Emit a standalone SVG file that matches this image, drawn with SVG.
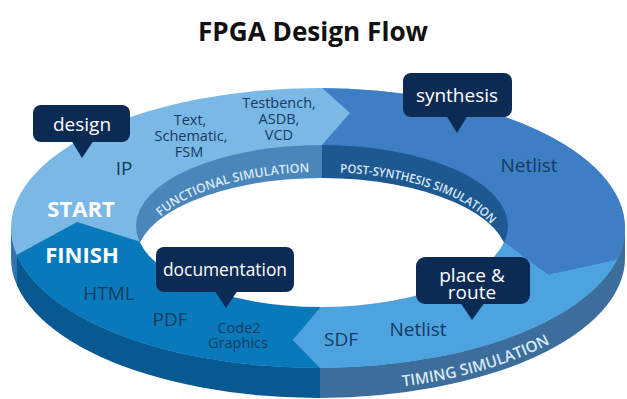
<svg xmlns="http://www.w3.org/2000/svg" width="627" height="399" viewBox="0 0 627 399">
<style>
.title{font-family:"Open Sans","Liberation Sans",sans-serif;font-weight:700;font-size:27px;fill:#111}
.bub{fill:#0b2b54}
.bt{font-family:"Open Sans","Liberation Sans",sans-serif;font-size:19px;fill:#fff;text-anchor:middle}
.lbl{font-family:"Open Sans","Liberation Sans",sans-serif;fill:#163a5f;text-anchor:middle}
.big{font-size:19px}
.sm{font-size:14.5px}
.wt{font-family:"Open Sans","Liberation Sans",sans-serif;font-weight:700;font-size:22px;fill:#fff;text-anchor:middle}
.arc{font-family:"Open Sans","Liberation Sans",sans-serif;font-weight:600;fill:#d8eaf8}
</style>
<defs>
<clipPath id="topFace"><ellipse cx="318" cy="228" rx="307" ry="140"/></clipPath>
<clipPath id="innerTop"><ellipse cx="322" cy="226" rx="186" ry="81"/></clipPath>
<clipPath id="wallL"><rect x="0" y="0" width="17" height="399"/></clipPath>
<clipPath id="wallM"><rect x="17" y="0" width="303" height="399"/></clipPath>
<clipPath id="wallR"><rect x="320" y="0" width="307" height="399"/></clipPath>
<path id="pInner" d="M142,252 A180,80 0 0 1 502,252"/>
<path id="pOuter" d="M318,392 A307,140 0 0 0 625,252"/>
<path id="wallShape" d="M11,228 L11,258 A307,140 0 0 0 625,258 L625,228 Z"/>
</defs>

<text class="title" x="313" y="41" text-anchor="middle" textLength="230" lengthAdjust="spacingAndGlyphs">FPGA Design Flow</text>

<g id="ring">
  <g id="wall">
    <use href="#wallShape" fill="#3373ad" clip-path="url(#wallL)"/>
    <use href="#wallShape" fill="#085891" clip-path="url(#wallM)"/>
    <use href="#wallShape" fill="#3c6d9b" clip-path="url(#wallR)"/>
  </g>
  <g id="top-surface" clip-path="url(#topFace)">
    <rect id="seg-start" x="0" y="60" width="640" height="360" fill="#7ab8e6"/>
    <polygon id="seg-synthesis" points="320,60 645,60 645,254 548,275 505,243 322,243 322,145 350,113 320,86" fill="#3e7ec4"/>
    <polygon id="seg-place-route" points="505,243 548,275 645,254 645,420 320,420 320,368 293,340 320,308 322,243" fill="#4da3e0"/>
    <polygon id="seg-finish" points="0,264 77,222 141,242 320,242 320,308 293,340 320,368 320,420 0,420" fill="#087abc"/>
  </g>
  <g id="inner-wall" clip-path="url(#innerTop)">
    <rect x="130" y="140" width="192" height="200" fill="#4a86b9"/>
    <rect x="322" y="140" width="192" height="200" fill="#1e5891"/>
    <ellipse cx="322" cy="259" rx="186" ry="81" fill="#fff"/>
  </g>
</g>

<g id="band-labels">
  <text class="arc" font-size="12.5"><textPath href="#pInner" startOffset="41" textLength="158" lengthAdjust="spacingAndGlyphs">FUNCTIONAL SIMULATION</textPath></text>
  <text class="arc" font-size="12" fill="#d0e3f3"><textPath href="#pInner" startOffset="230" textLength="163" lengthAdjust="spacingAndGlyphs">POST-SYNTHESIS SIMULATION</textPath></text>
  <text class="arc" font-size="15.5"><textPath href="#pOuter" startOffset="85" textLength="154" lengthAdjust="spacingAndGlyphs">TIMING SIMULATION</textPath></text>
</g>

<g id="labels">
  <text class="wt" x="81" y="217">START</text>
  <text class="wt" x="82" y="263">FINISH</text>
  <text class="lbl big" x="124" y="175">IP</text>
  <text class="lbl sm" x="190" y="125">Text,</text>
  <text class="lbl sm" x="191" y="141">Schematic,</text>
  <text class="lbl sm" x="189" y="157">FSM</text>
  <text class="lbl sm" x="279" y="108">Testbench,</text>
  <text class="lbl sm" x="279" y="124">ASDB,</text>
  <text class="lbl sm" x="279" y="140">VCD</text>
  <text class="lbl big" x="529" y="172">Netlist</text>
  <text class="lbl big" x="109" y="300">HTML</text>
  <text class="lbl big" x="170" y="326">PDF</text>
  <text class="lbl sm" x="239" y="333">Code2</text>
  <text class="lbl sm" x="238" y="348">Graphics</text>
  <text class="lbl big" x="341" y="346">SDF</text>
  <text class="lbl big" x="418" y="336">Netlist</text>
</g>

<g id="connectors"></g>

<g id="node-design">
  <rect class="bub" x="33" y="105" width="97" height="37" rx="8"/>
  <polygon class="bub" points="71,140 94,140 82,158"/>
  <text class="bt" x="82" y="131">design</text>
</g>
<g id="node-synthesis">
  <rect class="bub" x="403" y="73" width="109" height="44" rx="8"/>
  <polygon class="bub" points="446,115 468,115 457,133"/>
  <text class="bt" x="457" y="102">synthesis</text>
</g>
<g id="node-documentation">
  <rect class="bub" x="156" y="247" width="138" height="45" rx="8"/>
  <polygon class="bub" points="214,290 238,290 226,308"/>
  <text class="bt" x="225" y="276" textLength="124" lengthAdjust="spacingAndGlyphs">documentation</text>
</g>
<g id="node-place-route">
  <rect class="bub" x="416" y="257" width="114" height="47" rx="9"/>
  <polygon class="bub" points="460,302 485,302 472,320"/>
  <text class="bt" x="472" y="282" font-size="17.5">place &amp;</text>
  <text class="bt" x="472" y="299" font-size="17.5">route</text>
</g>
</svg>
